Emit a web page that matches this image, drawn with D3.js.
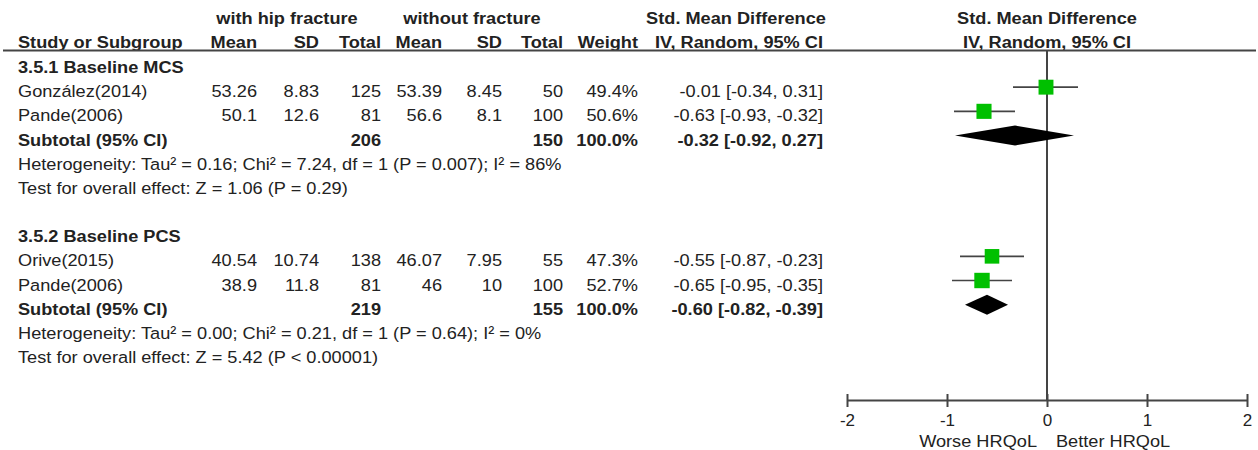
<!DOCTYPE html>
<html>
<head>
<meta charset="utf-8">
<script src="https://cdn.jsdelivr.net/npm/d3@7"></script>
<style>
  html, body { margin: 0; padding: 0; background: #fff; }
  svg { display: block; }
  text { font-family: "Liberation Sans", Arial, sans-serif; fill: #222; }
</style>
</head>
<body>
<svg id="chart" width="1258" height="450"></svg>
<script>
// ---------------- DATA ----------------
const groupTitles = ["3.5.1 Baseline MCS", "3.5.2 Baseline PCS"];
const studyNames  = ["González(2014)", "Pande(2006)", "Orive(2015)", "Pande(2006)"];
const studyGroup  = [0, 0, 1, 1];
const mean1 = [53.26, 50.1, 40.54, 38.9];
const sd1   = [8.83, 12.6, 10.74, 11.8];
const n1    = [125, 81, 138, 81];
const mean2 = [53.39, 56.6, 46.07, 46];
const sd2   = [8.45, 8.1, 7.95, 10];
const n2    = [50, 100, 55, 100];
const weights = [49.4, 50.6, 47.3, 52.7];
const smd    = [-0.01, -0.63, -0.55, -0.65];
const ciLow  = [-0.34, -0.93, -0.87, -0.95];
const ciHigh = [0.31, -0.32, -0.23, -0.35];

const subN1   = [206, 219];
const subN2   = [150, 155];
const subW    = [100.0, 100.0];
const subSmd  = [-0.32, -0.60];
const subLow  = [-0.92, -0.82];
const subHigh = [0.27, -0.39];
const heterogeneity = [
  "Heterogeneity: Tau² = 0.16; Chi² = 7.24, df = 1 (P = 0.007); I² = 86%",
  "Heterogeneity: Tau² = 0.00; Chi² = 0.21, df = 1 (P = 0.64); I² = 0%"
];
const overallEffect = [
  "Test for overall effect: Z = 1.06 (P = 0.29)",
  "Test for overall effect: Z = 5.42 (P < 0.00001)"
];
const axisTicks = [-2, -1, 0, 1, 2];
const axisDomain = [-2, 2];
const favourLeft = "Worse HRQoL";
const favourRight = "Better HRQoL";

// ---------------- LAYOUT ----------------
const svg = d3.select("#chart");
const FS = 17, SX = 1.07;
const x = d3.scaleLinear().domain(axisDomain).range([847, 1247]);
const rowY = d3.scaleLinear().domain([0, 12]).range([73, 363]);
const col = { name: 18, m1: 257, s1: 319, t1: 381, m2: 442, s2: 502, t2: 563, w: 638, ci: 823 };
const lineColor = "#444";

function txt(xp, yp, str, anchor, bold) {
  svg.append("text")
    .attr("transform", `translate(${xp},${yp}) scale(${SX},1)`)
    .attr("text-anchor", anchor || "start")
    .attr("font-size", FS)
    .attr("font-weight", bold ? "bold" : "normal")
    .text(str);
}
const f2 = v => v.toFixed(2);
const ciStr = (e, l, h) => `${f2(e)} [${f2(l)}, ${f2(h)}]`;

// Headers
txt(287, 24, "with hip fracture", "middle", true);
txt(472, 24, "without fracture", "middle", true);
txt(736, 24, "Std. Mean Difference", "middle", true);
txt(1047, 24, "Std. Mean Difference", "middle", true);
txt(col.name, 48, "Study or Subgroup", "start", true);
txt(col.m1, 48, "Mean", "end", true);
txt(col.s1, 48, "SD", "end", true);
txt(col.t1, 48, "Total", "end", true);
txt(col.m2, 48, "Mean", "end", true);
txt(col.s2, 48, "SD", "end", true);
txt(col.t2, 48, "Total", "end", true);
txt(col.w, 48, "Weight", "end", true);
txt(col.ci, 48, "IV, Random, 95% CI", "end", true);
txt(1047, 48, "IV, Random, 95% CI", "middle", true);

svg.append("line").attr("x1", 3).attr("x2", 1256).attr("y1", 50.5).attr("y2", 50.5)
  .attr("stroke", lineColor).attr("stroke-width", 2);

// Zero line
svg.append("line").attr("x1", x(0)).attr("x2", x(0)).attr("y1", 50).attr("y2", 400)
  .attr("stroke", lineColor).attr("stroke-width", 2);

// Rows
groupTitles.forEach((g, gi) => {
  const base = gi * 7;
  txt(col.name, rowY(base), g, "start", true);
  const idx = studyNames.map((_, i) => i).filter(i => studyGroup[i] === gi);
  idx.forEach((i, k) => {
    const y = rowY(base + 1 + k);
    txt(col.name, y, studyNames[i]);
    txt(col.m1, y, String(mean1[i]), "end");
    txt(col.s1, y, String(sd1[i]), "end");
    txt(col.t1, y, String(n1[i]), "end");
    txt(col.m2, y, String(mean2[i]), "end");
    txt(col.s2, y, String(sd2[i]), "end");
    txt(col.t2, y, String(n2[i]), "end");
    txt(col.w, y, weights[i].toFixed(1) + "%", "end");
    txt(col.ci, y, ciStr(smd[i], ciLow[i], ciHigh[i]), "end");
    const cy = y - 10;
    svg.append("line").attr("x1", x(ciLow[i])).attr("x2", x(ciHigh[i]))
      .attr("y1", cy).attr("y2", cy).attr("stroke", lineColor).attr("stroke-width", 1.6);
    const s = 15 * Math.sqrt(weights[i] / 50);
    svg.append("rect").attr("x", x(smd[i]) - s / 2).attr("y", cy - s / 2)
      .attr("width", s).attr("height", s).attr("fill", "#00c000");
  });
  const ys = rowY(base + 3);
  txt(col.name, ys, "Subtotal (95% CI)", "start", true);
  txt(col.t1, ys, String(subN1[gi]), "end", true);
  txt(col.t2, ys, String(subN2[gi]), "end", true);
  txt(col.w, ys, subW[gi].toFixed(1) + "%", "end", true);
  txt(col.ci, ys, ciStr(subSmd[gi], subLow[gi], subHigh[gi]), "end", true);
  const dy = ys - 10, h = 10;
  svg.append("path")
    .attr("d", `M${x(subLow[gi])},${dy} L${x(subSmd[gi])},${dy - h} L${x(subHigh[gi])},${dy} L${x(subSmd[gi])},${dy + h} Z`)
    .attr("fill", "#000");
  txt(col.name, rowY(base + 4), heterogeneity[gi]);
  txt(col.name, rowY(base + 5), overallEffect[gi]);
});

// Axis
const axisG = svg.append("g").attr("transform", "translate(0,400)")
  .call(d3.axisBottom(x).tickValues(axisTicks).tickFormat(d3.format("d")).tickSizeOuter(0));
axisG.select(".domain").attr("stroke", lineColor).attr("stroke-width", 2);
axisG.selectAll(".tick line").attr("y1", -6).attr("y2", 7).attr("stroke", lineColor).attr("stroke-width", 2);
axisG.selectAll(".tick text")
  .attr("y", 26).attr("dy", 0)
  .attr("font-size", FS)
  .attr("font-family", "Liberation Sans, Arial, sans-serif")
  .attr("fill", "#222")
  .text(d => (d < 0 ? "-" + Math.abs(d) : String(d)));

txt(x(0) - 10, 447, favourLeft, "end");
txt(x(0) + 9, 447, favourRight, "start");
</script>
</body>
</html>
